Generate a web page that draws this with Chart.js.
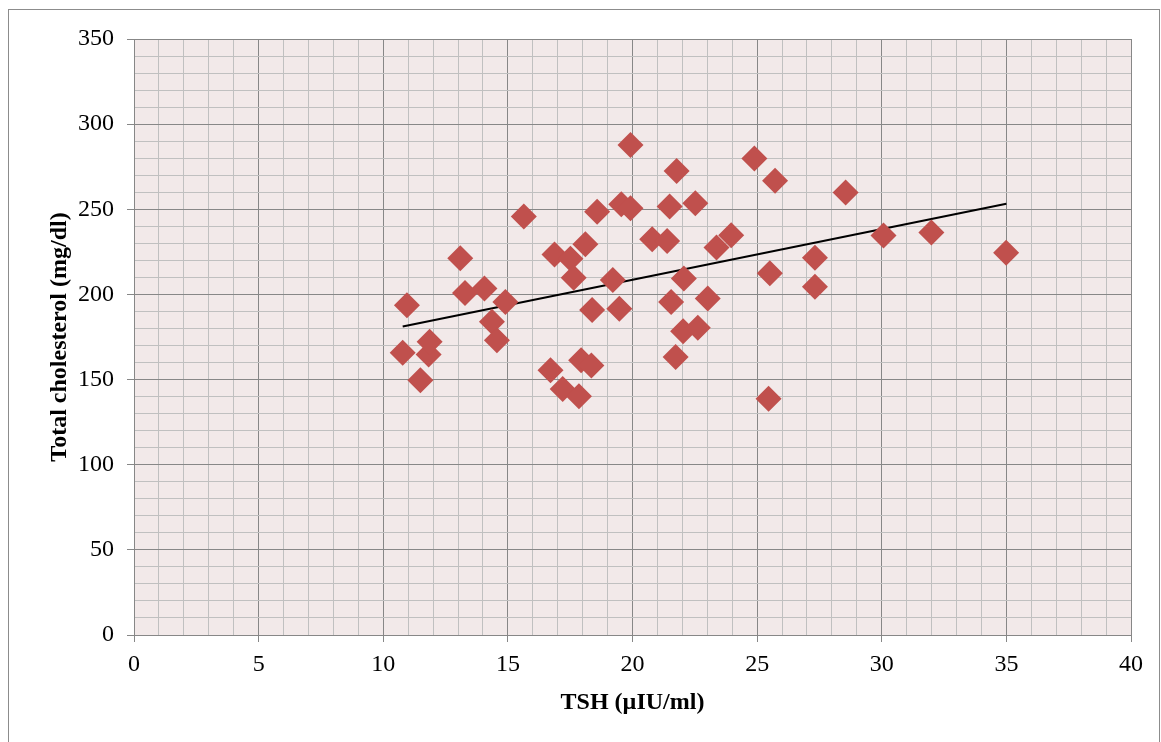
<!DOCTYPE html>
<html>
<head>
<meta charset="utf-8">
<script src="https://cdn.jsdelivr.net/npm/chart.js@4.4.1/dist/chart.umd.min.js"></script>
<style>
  html, body { margin: 0; padding: 0; background: #fff; }
  #wrap { position: absolute; left: 0; top: 0; width: 1161px; height: 742px; }
</style>
</head>
<body>
<div id="wrap"><canvas id="myChart"></canvas></div>
<script>
// TSH (x) and total cholesterol (y)
const tshValues = [10.78, 10.95, 11.49, 11.82, 11.86, 13.09, 13.28, 14.06, 14.36, 14.56,
  14.9, 15.64, 16.71, 16.87, 17.2, 17.51, 17.64, 17.85, 17.94, 18.11,
  18.35, 18.38, 18.58, 19.21, 19.47, 19.55, 19.92, 19.92, 20.79, 21.39,
  21.49, 21.55, 21.73, 21.77, 22.03, 22.06, 22.52, 22.62, 23.02, 23.37,
  23.96, 24.89, 25.46, 25.51, 25.72, 27.32, 27.32, 28.55, 30.07, 31.99, 34.99];
const cholValues = [165.7, 193.7, 149.6, 164.7, 172.2, 221.2, 200.8, 203.5, 183.9, 173.1,
  195.5, 245.7, 155.5, 223.5, 144.5, 221, 209.8, 140.2, 161.4, 229.4,
  158.2, 190.8, 248.6, 208.4, 191.6, 252.9, 250.6, 287.8, 232.4, 231.4,
  251.6, 195.6, 163.3, 272.5, 178.4, 209.4, 253.5, 180.4, 197.6, 227.5,
  234.7, 279.8, 138.8, 212.4, 266.7, 221.6, 204.5, 259.8, 234.6, 236.3, 224.5];
// linear trend line ends
const trendX = [10.78, 35];
const trendY = [181.2, 253.3];

const xTicks = [0, 5, 10, 15, 20, 25, 30, 35, 40];
const yTicks = [0, 50, 100, 150, 200, 250, 300, 350];

const serif = '"Liberation Serif", "Times New Roman", serif';
const majorGrid = '#878787';
const minorGrid = '#c0c0c0';

const bgPlugin = {
  id: 'bg',
  beforeDraw(chart) {
    const c = chart.ctx, a = chart.chartArea;
    c.save();
    c.fillStyle = '#ffffff';
    c.fillRect(0, 0, chart.width, chart.height);
    c.fillStyle = '#f2e9e9';
    c.fillRect(a.left, a.top, a.right - a.left, a.bottom - a.top);
    c.strokeStyle = '#8c8c8c';
    c.lineWidth = 1;
    c.strokeRect(8.5, 9.5, 1151, 740);
    c.restore();
  }
};

const ctx = document.getElementById('myChart');
new Chart(ctx, {
  type: 'scatter',
  data: {
    datasets: [{
      label: 'Total cholesterol',
      data: tshValues.map((x, i) => ({ x: x, y: cholValues[i] })),
      backgroundColor: '#c0504d',
      borderColor: '#c0504d',
      pointStyle: 'rectRot',
      pointRadius: 13,
      pointHoverRadius: 13,
      borderWidth: 0
    }, {
      type: 'line',
      label: 'Trend',
      data: trendX.map((x, i) => ({ x: x, y: trendY[i] })),
      borderColor: '#000000',
      borderWidth: 2,
      pointRadius: 0,
      fill: false
    }]
  },
  options: {
    responsive: true,
    maintainAspectRatio: false,
    animation: false,
    layout: { padding: { left: 41, right: 30, top: 39, bottom: 21 } },
    plugins: { legend: { display: false }, tooltip: { enabled: false } },
    scales: {
      x: {
        type: 'linear',
        position: 'bottom',
        min: 0, max: 40,
        afterFit(s) { s.height = 86; },
        ticks: {
          stepSize: 1,
          autoSkip: false,
          maxRotation: 0,
          padding: 8,
          color: '#000',
          font: { family: serif, size: 24 },
          callback: v => xTicks.includes(v) ? String(v) : ''
        },
        grid: {
          color: c => (c.tick && c.tick.value % 5 === 0) ? majorGrid : minorGrid,
          tickColor: c => (c.tick && c.tick.value % 5 === 0) ? majorGrid : 'rgba(0,0,0,0)',
          tickLength: 7,
          lineWidth: 1
        },
        border: { color: majorGrid },
        title: {
          display: true,
          text: 'TSH (µIU/ml)',
          color: '#000',
          font: { family: serif, size: 24, weight: 'bold' },
          padding: { top: 4 }
        }
      },
      y: {
        min: 0, max: 350,
        afterFit(s) { s.width = 93; },
        ticks: {
          stepSize: 10,
          autoSkip: false,
          padding: 13,
          color: '#000',
          font: { family: serif, size: 24 },
          callback: v => yTicks.includes(v) ? String(v) : ''
        },
        grid: {
          color: c => (c.tick && c.tick.value % 50 === 0) ? majorGrid : minorGrid,
          tickColor: c => (c.tick && c.tick.value % 50 === 0) ? majorGrid : 'rgba(0,0,0,0)',
          tickLength: 7,
          lineWidth: 1
        },
        border: { color: majorGrid },
        title: {
          display: true,
          text: 'Total cholesterol (mg/dl)',
          color: '#000',
          font: { family: serif, size: 24, weight: 'bold' },
          padding: { top: 4 }
        }
      }
    }
  },
  plugins: [bgPlugin]
});
</script>
</body>
</html>
